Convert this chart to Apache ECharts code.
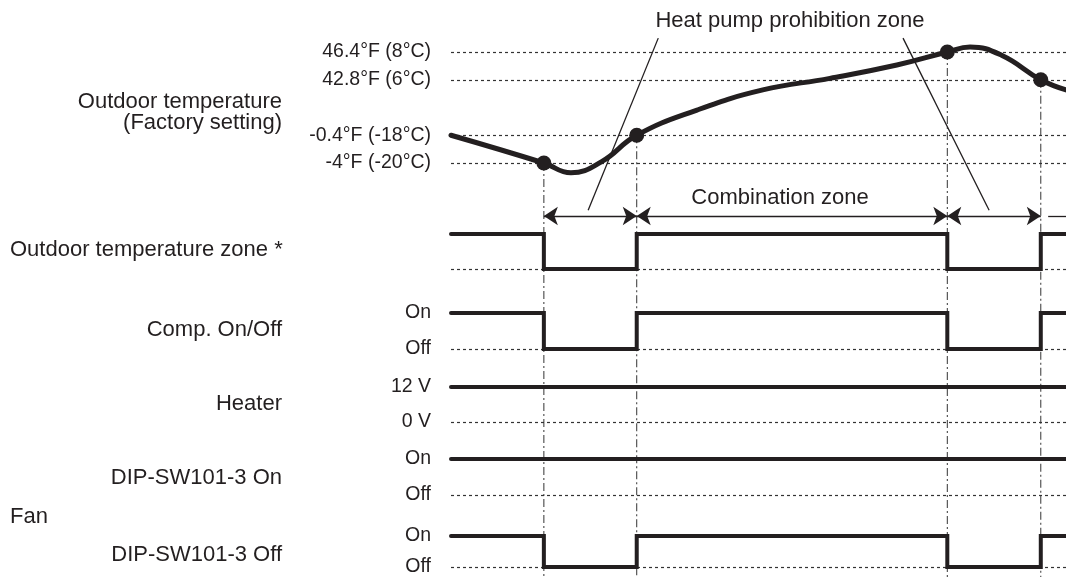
<!DOCTYPE html>
<html>
<head>
<meta charset="utf-8">
<script src="https://cdn.jsdelivr.net/npm/echarts@6/dist/echarts.min.js"></script>
<style>
html,body{margin:0;padding:0;background:#fff;}
#c{width:1066px;height:577px;}
</style>
</head>
<body>
<div id="c"></div>
<script>
// ---------- data ----------
const timeMax = 100;
const transitionTimes = [0, 15.1, 30.2, 80.7, 95.9];   // segment start times
const zoneStates   = [1, 0, 1, 0, 1];
const compStates   = [1, 0, 1, 0, 1];
const heaterStates = [1, 1, 1, 1, 1];
const dipOnStates  = [1, 1, 1, 1, 1];
const fanOffStates = [1, 0, 1, 0, 1];

const tempTickC = [-20, -18, 6, 8];
const tempTickLabels = ['-4°F (-20°C)', '-0.4°F (-18°C)', '42.8°F (6°C)', '46.4°F (8°C)'];
const tempTickLevels = [0, 1, 3, 4];

const tempCurveTime = [0, 15.1, 19.5, 24.5, 30.2, 40.0, 50.7, 61.6, 72.5, 80.7, 84.4, 89.6, 95.9, 100];
const tempCurveC    = [-18, -20, -20.7, -19.9, -18, -7.1, 1.6, 6.1, 7.06, 8, 8.36, 7.75, 6, 1.6];

const switchPointTime = [15.1, 30.2, 80.7, 95.9];
const switchPointC    = [-20, -18, 8, 6];

const zoneArrowSpans = [[15.1, 30.2], [30.2, 80.7], [80.7, 95.9]];
const zoneTailSpan = [97.1, 100];
const combinationLabel = 'Combination zone';

const prohibitionTitle = 'Heat pump prohibition zone';
const prohibitionLeaders = [ [[33.7, 9], [22.3, -23.4]], [[73.5, 9], [87.5, -23.4]] ];

const onOffLabels = ['Off', 'On'];
const voltLabels = ['0 V', '12 V'];

const rowLabels = [
  {text: 'Outdoor temperature', align: 'right', y: 102},
  {text: '(Factory setting)', align: 'right', y: 123},
  {text: 'Outdoor temperature zone *', align: 'left', y: 250},
  {text: 'Comp. On/Off', align: 'right', y: 330},
  {text: 'Heater', align: 'right', y: 404},
  {text: 'DIP-SW101-3 On', align: 'right', y: 478},
  {text: 'Fan', align: 'left', y: 517},
  {text: 'DIP-SW101-3 Off', align: 'right', y: 555}
];

// ---------- helpers ----------
function toLevel(c) {
  let i;
  if (c <= tempTickC[0]) i = 0;
  else if (c >= tempTickC[tempTickC.length - 1]) i = tempTickC.length - 2;
  else { for (i = 0; i < tempTickC.length - 1; i++) if (c <= tempTickC[i + 1]) break; }
  const c0 = tempTickC[i], c1 = tempTickC[i + 1], l0 = tempTickLevels[i], l1 = tempTickLevels[i + 1];
  return l0 + (c - c0) * (l1 - l0) / (c1 - c0);
}
function stepData(states) {
  const d = transitionTimes.map((t, i) => [t, states[i]]);
  d.push([timeMax, states[states.length - 1]]);
  return d;
}

const INK = '#231f20';
const FONT = '"Liberation Sans", Arial, Helvetica, sans-serif';
const dotted = {color: '#333', width: 1.2, type: [3, 3], opacity: 1};

const gridLeft = 451;
const gridDefs = [
  {top: 52, height: 111},   // 0 temperature
  {top: 206, height: 20},   // 1 zone arrows
  {top: 234, height: 35},   // 2 outdoor temperature zone
  {top: 313, height: 36},   // 3 comp
  {top: 387, height: 35},   // 4 heater
  {top: 459, height: 36},   // 5 DIP on fan
  {top: 536, height: 36}    // 6 DIP off fan
];

const grids = gridDefs.map(g => ({left: gridLeft, right: 0, top: g.top, height: g.height, containLabel: false}));
const xAxes = gridDefs.map((g, i) => ({type: 'value', gridIndex: i, min: 0, max: timeMax, show: false}));

function yAxisFor(i, min, max, labels, values) {
  const ax = {
    type: 'value', gridIndex: i, min: min, max: max, interval: 1,
    axisLine: {show: false}, axisTick: {show: false}, splitLine: {show: false}
  };
  if (labels) {
    ax.axisLabel = {
      show: true, customValues: values, margin: 20,
      color: INK, fontSize: 19.5, fontFamily: FONT,
      formatter: v => labels[values.indexOf(v)] || ''
    };
  } else {
    ax.axisLabel = {show: false};
  }
  return ax;
}

const yAxes = [
  yAxisFor(0, 0, 4, tempTickLabels, tempTickLevels),
  yAxisFor(1, 0, 1, null),
  yAxisFor(2, 0, 1, null),
  yAxisFor(3, 0, 1, onOffLabels, [0, 1]),
  yAxisFor(4, 0, 1, voltLabels, [0, 1]),
  yAxisFor(5, 0, 1, onOffLabels, [0, 1]),
  yAxisFor(6, 0, 1, onOffLabels, [0, 1])
];

function waveSeries(idx, states) {
  return {
    type: 'line', xAxisIndex: idx, yAxisIndex: idx, step: 'end', symbol: 'none',
    data: stepData(states), clip: false, z: 5,
    lineStyle: {color: INK, width: 4, cap: 'round', join: 'miter'},
    markLine: {
      silent: true, symbol: 'none', label: {show: false},
      lineStyle: dotted, z: 1,
      data: [{yAxis: 0}]
    }
  };
}

const series = [
  // vertical dash-dot switch lines
  {
    type: 'custom', xAxisIndex: 0, yAxisIndex: 0, z: 1, silent: true,
    data: switchPointTime.map((t, i) => [t, toLevel(switchPointC[i])]),
    renderItem: (params, api) => {
      const p = api.coord([api.value(0), api.value(1)]);
      return {
        type: 'line',
        shape: {x1: p[0], y1: p[1], x2: p[0], y2: api.getHeight()},
        style: {stroke: '#333', lineWidth: 1, lineDash: [8, 3, 2, 3]}
      };
    }
  },
  // temperature curve
  {
    type: 'line', xAxisIndex: 0, yAxisIndex: 0, smooth: 0.45, symbol: 'none', clip: false, z: 5,
    data: tempCurveTime.map((t, i) => [t, toLevel(tempCurveC[i])]),
    lineStyle: {color: INK, width: 5, cap: 'round'},
    markLine: {
      silent: true, symbol: 'none', label: {show: false}, lineStyle: dotted, z: 1,
      data: tempTickLevels.map(l => ({yAxis: l}))
    }
  },
  // switch point dots
  {
    type: 'scatter', xAxisIndex: 0, yAxisIndex: 0, symbol: 'circle', symbolSize: 15, z: 6,
    itemStyle: {color: INK, opacity: 1},
    data: switchPointTime.map((t, i) => [t, toLevel(switchPointC[i])])
  },
  // prohibition leader lines
  {
    type: 'lines', coordinateSystem: 'cartesian2d', xAxisIndex: 0, yAxisIndex: 0, clip: false, z: 4,
    symbol: 'none', silent: true,
    lineStyle: {color: INK, width: 1.3, opacity: 1},
    data: prohibitionLeaders.map(seg => ({coords: seg.map(p => [p[0], toLevel(p[1])])}))
  },
  // zone arrows
  {
    type: 'lines', coordinateSystem: 'cartesian2d', xAxisIndex: 1, yAxisIndex: 1, clip: false, z: 4,
    symbol: ['arrow', 'arrow'], symbolSize: 14, silent: true,
    lineStyle: {color: INK, width: 1.3, opacity: 1},
    data: zoneArrowSpans.map((s, i) => ({
      coords: [[s[0], 0.5], [s[1], 0.5]],
      label: i === 1 ? {show: true, position: 'middle', formatter: combinationLabel, color: INK, fontSize: 22, fontFamily: FONT, distance: 7, offset: [-12, 0]} : {show: false}
    }))
  },
  {
    type: 'lines', coordinateSystem: 'cartesian2d', xAxisIndex: 1, yAxisIndex: 1, clip: false, z: 4,
    symbol: 'none', silent: true,
    lineStyle: {color: INK, width: 1.3, opacity: 1},
    data: [{coords: [[zoneTailSpan[0], 0.5], [zoneTailSpan[1], 0.5]]}]
  },
  waveSeries(2, zoneStates),
  waveSeries(3, compStates),
  waveSeries(4, heaterStates),
  waveSeries(5, dipOnStates),
  waveSeries(6, fanOffStates)
];

const graphic = rowLabels.map(r => ({
  type: 'text', x: r.align === 'right' ? 282 : 10, y: r.y,
  style: {text: r.text, textAlign: r.align, textVerticalAlign: 'middle', fill: INK, fontSize: 22, fontFamily: FONT}
}));
graphic.push({
  type: 'text', x: 790, y: 21,
  style: {text: prohibitionTitle, textAlign: 'center', textVerticalAlign: 'middle', fill: INK, fontSize: 22, fontFamily: FONT}
});

const chart = echarts.init(document.getElementById('c'), null, {renderer: 'canvas'});
chart.setOption({
  animation: false,
  backgroundColor: '#fff',
  grid: grids,
  xAxis: xAxes,
  yAxis: yAxes,
  series: series,
  graphic: graphic
});
</script>
</body>
</html>
